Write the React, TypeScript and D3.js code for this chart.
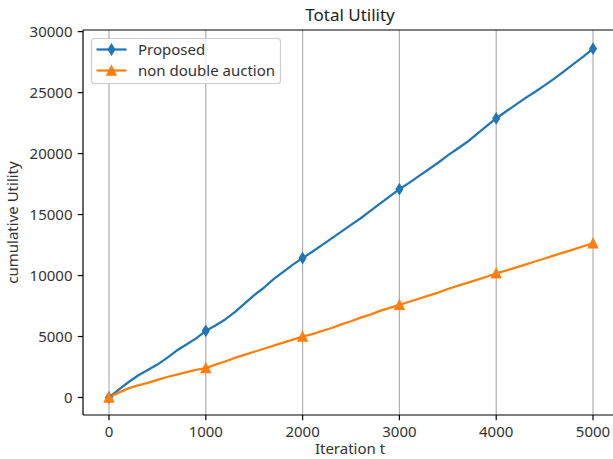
import React from "react";
import * as d3 from "d3";

const iterations: number[] = d3.range(0, 5001, 100);

const proposed: number[] = [
  0, 650, 1250, 1800, 2250, 2700, 3250, 3850, 4350, 4850,
  5470, 5900, 6400, 7000, 7700, 8400, 9000, 9700, 10300, 10900,
  11430, 11950, 12500, 13050, 13600, 14150, 14700, 15300, 15900, 16500,
  17080, 17600, 18150, 18700, 19250, 19850, 20400, 20950, 21600, 22250,
  22880, 23450, 24000, 24550, 25050, 25600, 26150, 26750, 27350, 27950,
  28600,
];

const nonDouble: number[] = [
  0, 400, 750, 1000, 1200, 1450, 1680, 1880, 2080, 2260,
  2420, 2700, 2950, 3250, 3500, 3750, 4000, 4250, 4500, 4750,
  5000, 5200, 5450, 5700, 6000, 6250, 6550, 6800, 7100, 7350,
  7600, 7850, 8100, 8350, 8600, 8900, 9150, 9400, 9650, 9900,
  10180, 10400, 10650, 10900, 11150, 11400, 11650, 11900, 12150, 12400,
  12650,
];

const xTicks: number[] = [0, 1000, 2000, 3000, 4000, 5000];
const yTicks: number[] = [0, 5000, 10000, 15000, 20000, 25000, 30000];
const seriesNames: string[] = ["Proposed", "non double auction"];
const seriesColors: string[] = ["#1f77b4", "#ff7f0e"];

const W = 613;
const H = 459;
const FONT = "'Noto Sans', 'DejaVu Sans', sans-serif";

export default function App() {
  const left = 83;
  const top = 30;
  const bottom = 415;
  const x = d3.scaleLinear().domain([-250, 5250]).range([84.8, 617.2]);
  const y = d3.scaleLinear().domain([-1435, 30135]).range([bottom, top]);

  const line = d3
    .line<number>()
    .x((_, i) => x(iterations[i]))
    .y((d) => y(d));

  const series = [proposed, nonDouble];

  const diamond = (cx: number, cy: number) =>
    `M${cx},${cy - 5} L${cx + 3.2},${cy} L${cx},${cy + 5} L${cx - 3.2},${cy} Z`;
  const triangle = (cx: number, cy: number) =>
    `M${cx},${cy - 4.5} L${cx + 4.5},${cy + 4.5} L${cx - 4.5},${cy + 4.5} Z`;
  const marker = (k: number, cx: number, cy: number) =>
    k === 0 ? diamond(cx, cy) : triangle(cx, cy);

  const markerIdx = iterations
    .map((t, i) => (t % 1000 === 0 ? i : -1))
    .filter((i) => i >= 0);

  return (
    <svg
      width={W}
      height={H}
      style={{ position: "absolute", left: 0, top: 0, background: "#fff" }}
      fontFamily={FONT}
    >
      <rect x={0} y={0} width={W} height={H} fill="#fff" />
      {/* grid */}
      {xTicks.map((t) => (
        <line
          key={"g" + t}
          x1={x(t)}
          x2={x(t)}
          y1={top}
          y2={bottom}
          stroke="#b0b0b0"
          strokeWidth={1.2}
        />
      ))}
      {/* lines */}
      {series.map((s, k) => (
        <path
          key={"l" + k}
          d={line(s) || ""}
          fill="none"
          stroke={seriesColors[k]}
          strokeWidth={2.25}
          strokeLinejoin="round"
        />
      ))}
      {series.map((s, k) =>
        markerIdx.map((i) => (
          <path
            key={"m" + k + "-" + i}
            d={marker(k, x(iterations[i]), y(s[i]))}
            fill={seriesColors[k]}
            stroke={seriesColors[k]}
            strokeWidth={1.5}
            strokeLinejoin="miter"
          />
        ))
      )}
      {/* spines */}
      <line x1={left} x2={W} y1={top} y2={top} stroke="#000" strokeWidth={1.2} />
      <line x1={left} x2={W} y1={bottom} y2={bottom} stroke="#000" strokeWidth={1.2} />
      <line x1={left} x2={left} y1={top} y2={bottom} stroke="#000" strokeWidth={1.2} />
      {/* x ticks */}
      {xTicks.map((t) => (
        <g key={"xt" + t}>
          <line x1={x(t)} x2={x(t)} y1={bottom} y2={bottom + 5.25} stroke="#000" strokeWidth={1.2} />
          <text
            x={x(t)}
            y={bottom + 22}
            textAnchor="middle"
            fontSize={15}
            fill="#333"
          >
            {t}
          </text>
        </g>
      ))}
      {/* y ticks */}
      {yTicks.map((t) => (
        <g key={"yt" + t}>
          <line x1={left - 5.25} x2={left} y1={y(t)} y2={y(t)} stroke="#000" strokeWidth={1.2} />
          <text
            x={left - 10.5}
            y={y(t)}
            dy="0.35em"
            textAnchor="end"
            fontSize={15}
            fill="#333"
          >
            {t}
          </text>
        </g>
      ))}
      {/* labels */}
      <text x={350} y={454} textAnchor="middle" fontSize={15} fill="#333">
        Iteration t
      </text>
      <text
        transform={`translate(18,${(top + bottom) / 2}) rotate(-90)`}
        textAnchor="middle"
        fontSize={15}
        fill="#333"
      >
        cumulative Utility
      </text>
      <text x={350} y={21} textAnchor="middle" fontSize={17} fill="#222">
        Total Utility
      </text>
      {/* legend */}
      <rect
        x={91.5}
        y={38.5}
        width={189}
        height={45}
        rx={3}
        fill="#fff"
        fillOpacity={0.8}
        stroke="#cccccc"
        strokeWidth={1.2}
      />
      {seriesNames.map((name, k) => {
        const ly = 49.5 + k * 21;
        return (
          <g key={"lg" + k}>
            <line x1={96.5} x2={126.5} y1={ly} y2={ly} stroke={seriesColors[k]} strokeWidth={2.25} />
            <path
              d={marker(k, 111.5, ly)}
              fill={seriesColors[k]}
              stroke={seriesColors[k]}
              strokeWidth={1.5}
            />
            <text x={138} y={ly} dy="0.35em" fontSize={15} fill="#333">
              {name}
            </text>
          </g>
        );
      })}
    </svg>
  );
}
